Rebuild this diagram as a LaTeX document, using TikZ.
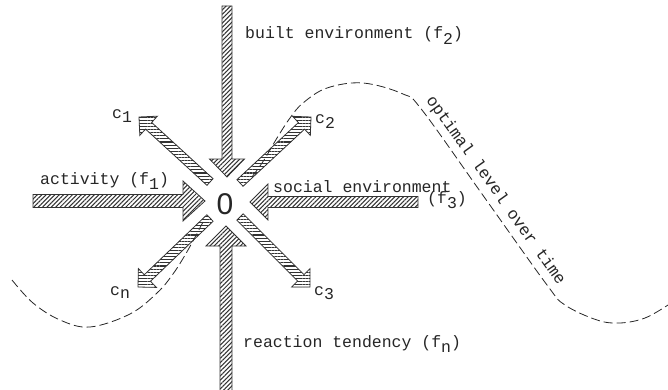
\documentclass[tikz,border=0pt]{standalone}
\usepackage{fontspec}
\setmainfont{Liberation Serif}
\setmonofont{Liberation Mono}
\newfontfamily\ofont{Liberation Sans}
\usetikzlibrary{calc,patterns.meta}
\newcommand\lowr[1]{\raisebox{-0.34em}{#1}}
\newcommand\fatarr[6][]{%
  \coordinate (fab) at ($(#3)!#6!(#2)$);
  \path[#1] ($(#2)!#4!90:(#3)$) -- ($(fab)!#4!-90:(#2)$) -- ($(fab)!#5!-90:(#2)$) -- (#3)
    -- ($(fab)!#5!90:(#2)$) -- ($(fab)!#4!90:(#2)$) -- ($(#2)!#4!-90:(#3)$) -- cycle;}
\tikzset{
  mainarr/.style={draw=black!80, line width=0.8pt, line join=miter,
    pattern={Lines[angle=45,distance=3.1pt,line width=1.05pt]}, pattern color=black!80},
  carr/.style={draw=black!80, line width=0.8pt, line join=miter,
    pattern={Lines[angle=0,distance=3.1pt,line width=1.05pt]}, pattern color=black!80},
  lbl/.style={font=\ttfamily\fontsize{16.5}{18}\selectfont, text=black!85, inner sep=0pt},
  curve/.style={dash pattern=on 9pt off 4pt, line width=0.8pt, draw=black!85},
}
\begin{document}
\begin{tikzpicture}[x=1pt,y=-1pt]
\useasboundingbox (0,0) rectangle (668,390);
% optimal level curve
\draw[curve] plot[smooth,tension=0.6] coordinates {(12,280) (33,303) (60,320) (90,327) (130,314) (157,293) (173,274) (188,250) (203,222)};
\draw[curve] plot[smooth,tension=0.6] coordinates {(252,177) (264,160) (277,138) (290,118) (303,103) (327,88) (363,83) (403,94) (422,110) (484.5,197.5) (547,285) (565,305) (597,320) (620,323) (645,318) (668,305)};
\node[lbl, rotate=-54.5, anchor=base] (opt) at (492,193) {optimal level over time};
% organism
\node[font=\ofont\fontsize{30}{30}\selectfont, text=black!85, inner sep=0pt] (O) at (225,204) {0};
% main arrows
\coordinate (ttop) at (227,6);   \coordinate (htop) at (227,177);
\coordinate (tbot) at (226,392); \coordinate (hbot) at (226,226);
\coordinate (tlef) at (33,201);  \coordinate (hlef) at (205,201);
\coordinate (trig) at (418,202); \coordinate (hrig) at (250,202);
\fatarr[mainarr]{ttop}{htop}{5pt}{17.5pt}{18pt}
\fatarr[mainarr]{tbot}{hbot}{6pt}{20pt}{20pt}
\fatarr[mainarr]{tlef}{hlef}{6.5pt}{20pt}{22pt}
\fatarr[mainarr]{trig}{hrig}{5.5pt}{18pt}{18pt}
% consequence arrows
\coordinate (tc1) at (210,182); \coordinate (hc1) at (139,117);
\coordinate (tc2) at (240,183); \coordinate (hc2) at (311,117);
\coordinate (tc3) at (240,217); \coordinate (hc3) at (310,287);
\coordinate (tcn) at (210,218); \coordinate (hcn) at (138,287);
\fatarr[carr]{tc1}{hc1}{4.5pt}{13pt}{13pt}
\fatarr[carr]{tc2}{hc2}{4.5pt}{13pt}{13pt}
\fatarr[carr]{tc3}{hc3}{4.5pt}{13pt}{13pt}
\fatarr[carr]{tcn}{hcn}{4.5pt}{13pt}{13pt}
% labels
\node[lbl, anchor=base west] (f2) at (245,39) {built environment (f\lowr{2})};
\node[lbl, anchor=base west] (f1) at (40,184) {activity (f\lowr{1})};
\node[lbl, anchor=base west] (f3a) at (273,192) {social environment};
\node[lbl, anchor=base west] (f3b) at (427,203) {(f\lowr{3})};
\node[lbl, anchor=base west] (fn) at (243,347) {reaction tendency (f\lowr{n})};
\node[lbl, anchor=base west] (c1) at (112,119) {c\raisebox{-0.22em}{1}};
\node[lbl, anchor=base west] (c2) at (315,123.5) {c\raisebox{-0.3em}{2}};
\node[lbl, anchor=base west] (c3) at (314,295) {c\raisebox{-0.3em}{3}};
\node[lbl, anchor=base west] (cn) at (110,295) {c\raisebox{-0.2em}{n}};
\end{tikzpicture}
\end{document}
